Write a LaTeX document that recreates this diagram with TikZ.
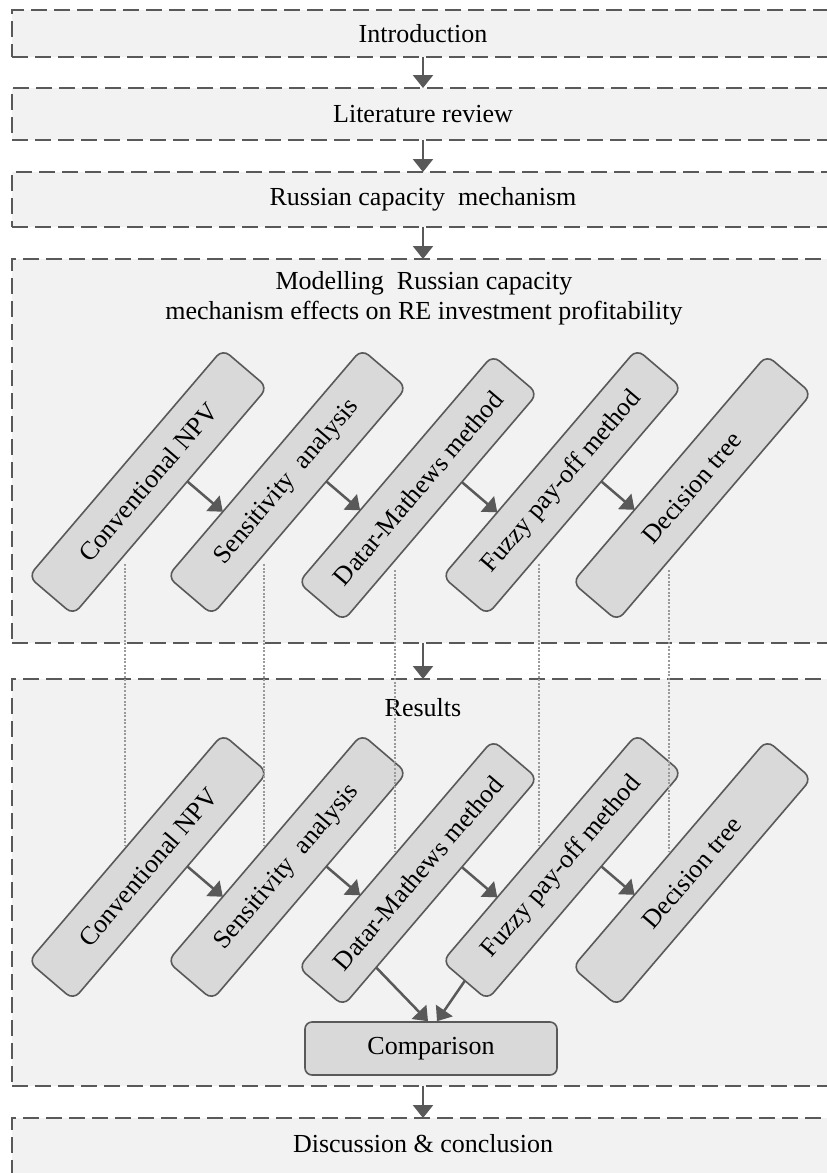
\documentclass[tikz,border=0pt]{standalone}
\usepackage{fontspec}
\setmainfont{Liberation Serif}
\usetikzlibrary{calc,arrows.meta}
\definecolor{edge}{HTML}{595959}
\definecolor{panel}{HTML}{F2F2F2}
\definecolor{cell}{HTML}{D9D9D9}
\definecolor{trace}{HTML}{9A9A9A}
\begin{document}
\begin{tikzpicture}[x=1pt,y=-1pt,
  txt/.style={font=\fontsize{26}{30}\selectfont, text=black},
  section/.style={txt, draw=edge, fill=panel, line width=2pt,
    dash pattern=on 16pt off 7pt, minimum width=822pt,
    inner sep=0pt, outer sep=0pt},
  method/.style={txt, draw=edge, fill=cell, line width=1.6pt,
    rounded corners=9pt, minimum width=299pt, minimum height=59pt,
    inner sep=0pt, outer sep=0pt, rotate=49.5},
  flow/.style={draw=edge, line width=2.5pt,
    -{Triangle[width=20pt,length=13pt]}},
  link/.style={draw=trace, line width=2.4pt, dash pattern=on 2pt off 1.6pt},
]
\useasboundingbox (0,0) rectangle (827,1173);
\clip (0,0) rectangle (827,1173);

% chapter blocks
\node[section, minimum height=47pt] (intro) at (423,33.5) {Introduction};
\node[section, minimum height=52pt] (lit) at (423,114) {Literature review};
\node[section, minimum height=55pt] (rcm) at (423,199.5) {Russian capacity~ mechanism};
\node[section, minimum height=384pt] (model) at (423,451) {};
\node[txt, align=center] (modtitle) at (424,298)
  {Modelling~ Russian capacity\\mechanism effects on RE investment profitability};
\node[section, minimum height=407pt] (res) at (423,882.5) {};
\node[txt] (restitle) at (423,708) {Results};
\node[section, minimum height=62pt] (disc) at (423,1149) {};
\node[txt] (disctext) at (423,1144) {Discussion \& conclusion};

% methods applied in the model
\node[method] (u1) at (148,482) {Conventional NPV};
\node[method] (u2) at (287,482) {Sensitivity~ analysis};
\node[method] (u3) at (418,488) {Datar-Mathews method};
\node[method] (u4) at (562,482) {Fuzzy pay-off method};
\node[method] (u5) at (692,488) {Decision tree};

% the same methods in the results
\node[method] (l1) at (148,867) {Conventional NPV};
\node[method] (l2) at (287,867) {Sensitivity~ analysis};
\node[method] (l3) at (418,873) {Datar-Mathews method};
\node[method] (l4) at (562,867) {Fuzzy pay-off method};
\node[method] (l5) at (692,873) {Decision tree};

\node[txt, draw=edge, fill=cell, line width=1.6pt, rounded corners=7pt,
  minimum width=252pt, minimum height=53pt, inner sep=0pt] (comp)
  at (431,1048.5) {Comparison};

% dotted guides linking each method to its result
\foreach \i in {1,...,5} {
  \draw[link] ($(u\i.center)+(-23,82)$) -- ($(l\i.center)+(-23,-22)$);
}

% chapter flow
\draw[flow] (intro.south) -- (lit.north);
\draw[flow] (lit.south) -- (rcm.north);
\draw[flow] (rcm.south) -- (model.north);
\draw[flow] (model.south) -- (res.north);
\draw[flow] (res.south) -- (disc.north);

% method sequence, upper and lower rows
\foreach \r in {u,l} {
  \foreach \i/\j/\t in {1/2/26,2/3/26,3/4/33,4/5/26} {
    \coordinate (\r s\i) at ($(\r\i.south)!\t pt!(\r\i.south east)$);
    \draw[flow] (\r s\i) -- ($(\r\j.north west)!(\r s\i)!(\r\j.north east)$);
  }
}

% results feeding the comparison
\coordinate (dm) at ($(l3.south)!99pt!(l3.south west)$);
\draw[flow] (dm) -- ($(comp.north)+(-3,0)$);
\draw[flow] (l4.west) -- ($(comp.north)+(6,0)$);
\end{tikzpicture}
\end{document}
